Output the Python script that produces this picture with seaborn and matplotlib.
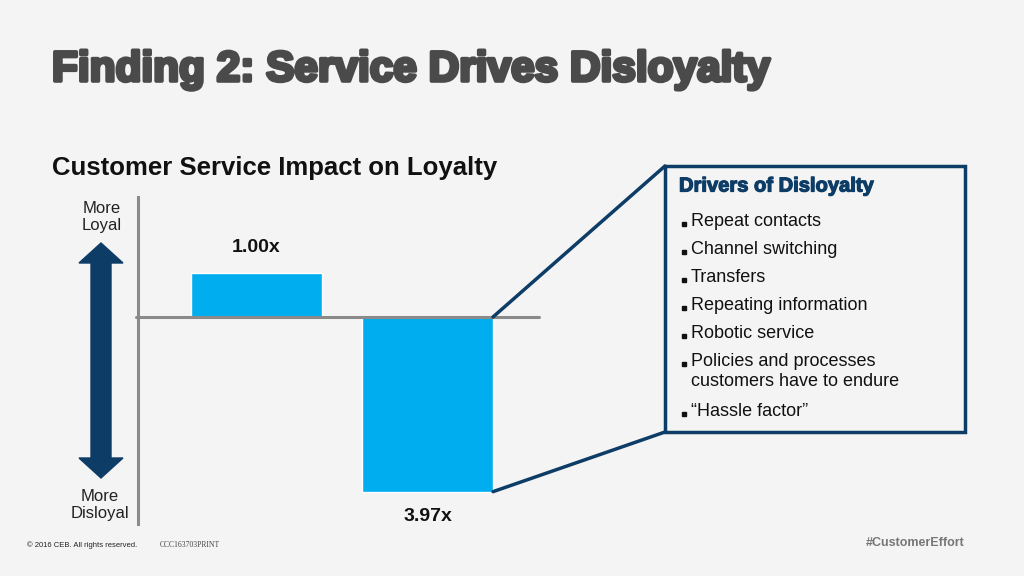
import matplotlib.pyplot as plt
import matplotlib.patches as mpatches
import matplotlib.patheffects as pe
import seaborn as sns
import pandas as pd

# data
categories = ["Loyalty", "Disloyalty"]
impact = [1.00, -3.97]
impact_labels = ["1.00x", "3.97x"]
drivers = ["Repeat contacts", "Channel switching", "Transfers",
           "Repeating information", "Robotic service",
           "Policies and processes\ncustomers have to endure",
           "\u201cHassle factor\u201d"]

BG = "#f4f4f4"
BLUE = "#00aeef"
NAVY = "#0d3c66"
GRAY = "#8a8a8a"

sns.set_theme(style="white")
plt.rcParams["font.family"] = ["Liberation Sans", "DejaVu Sans"]

fig = plt.figure(figsize=(10.24, 5.76), dpi=100, facecolor=BG)

# overlay in pixel coords for decorations
ov = fig.add_axes([0, 0, 1, 1], facecolor="none")
ov.set_xlim(0, 1024)
ov.set_ylim(576, 0)
ov.axis("off")

# chart axes
W, H = 1024, 576
ax = fig.add_axes([138 / W, (H - 524) / H, (539 - 138) / W, (524 - 197) / H], facecolor="none")
df = pd.DataFrame({"group": categories, "impact": impact})
sns.barplot(data=df, x="group", y="impact", color=BLUE, saturation=1, width=0.766, ax=ax)
ax.set_xlim(-0.693, 1.652)
ax.set_ylim(-4.705, 2.727)
ax.axhline(0, color=GRAY, lw=2.2, xmin=-0.006, clip_on=False, zorder=3)
for s in ["top", "right", "bottom"]:
    ax.spines[s].set_visible(False)
ax.spines["left"].set_color(GRAY)
ax.spines["left"].set_linewidth(2.2)
ax.set_xticks([])
ax.set_yticks([])
ax.set_xlabel("")
ax.set_ylabel("")

for i, (v, lab) in enumerate(zip(impact, impact_labels)):
    if v >= 0:
        ax.annotate(lab, (i, v), xytext=(0, 12), textcoords="offset points",
                    ha="center", va="bottom", fontsize=14, fontweight="bold", color="#111111")
    else:
        ax.annotate(lab, (i, v), xytext=(0, -12), textcoords="offset points",
                    ha="center", va="top", fontsize=14, fontweight="bold", color="#111111")

# titles
fig.text(52 / W, 1 - 70 / H, "Finding 2: Service Drives Disloyalty", fontsize=30.5,
         fontweight="bold", color="#4a4a4a", va="center", ha="left",
         family=["Liberation Sans Narrow", "Liberation Sans"],
         path_effects=[pe.withStroke(linewidth=2.6, foreground="#4a4a4a")])
fig.text(52 / W, 1 - 168 / H, "Customer Service Impact on Loyalty", fontsize=18.5,
         fontweight="bold", color="#111111", va="center", ha="left")

# double arrow
cx, top, bot = 101, 243, 478
sw, hw, hh = 10, 22, 20
arrow = [(cx, top), (cx + hw, top + hh), (cx + sw, top + hh), (cx + sw, bot - hh),
         (cx + hw, bot - hh), (cx, bot), (cx - hw, bot - hh), (cx - sw, bot - hh),
         (cx - sw, top + hh), (cx - hw, top + hh)]
ov.add_patch(mpatches.Polygon(arrow, closed=True, color=NAVY))
ov.text(102, 217, "More\nLoyal", ha="center", va="center", fontsize=12, color="#222222",
        linespacing=1.1, multialignment="center")
ov.text(100, 505, "More\nDisloyal", ha="center", va="center", fontsize=12, color="#222222",
        linespacing=1.1, multialignment="center")

# callout box
ov.add_patch(mpatches.Rectangle((665, 166), 300, 266, fill=False, edgecolor=NAVY, lw=2.5))
bx = 1 + 0.766 / 2
for ydat, ypx in [(0, 166), (impact[1], 432)]:
    con = mpatches.ConnectionPatch(xyA=(bx, ydat), coordsA=ax.transData,
                                   xyB=(665, ypx), coordsB=ov.transData,
                                   color=NAVY, lw=2.5)
    fig.add_artist(con)

ov.text(679, 186, "Drivers of Disloyalty", fontsize=14.5, fontweight="bold", color=NAVY,
        va="center", ha="left", path_effects=[pe.withStroke(linewidth=0.9, foreground=NAVY)])
ys = [220, 248, 276, 304, 332, 360, 410]
for y, d in zip(ys, drivers):
    ov.plot(684, y + 4, marker="s", ms=3.5, color="#111111")
    ov.text(691, y - 7, d, fontsize=13, color="#111111", va="top", ha="left", linespacing=1.2)

# footer
fig.text(27 / W, 1 - 545 / H, "\u00a9 2016 CEB. All rights reserved.", fontsize=5.5,
         color="#222222", va="center")
fig.text(160 / W, 1 - 545 / H, "CCC163703PRINT", fontsize=5.5, color="#444444",
         va="center", family=["Liberation Serif"])
fig.text(965 / W, 1 - 543 / H, "#CustomerEffort", fontsize=9, fontweight="bold",
         color="#777777", va="center", ha="right")

fig.savefig("out.png", dpi=100, facecolor=BG)
